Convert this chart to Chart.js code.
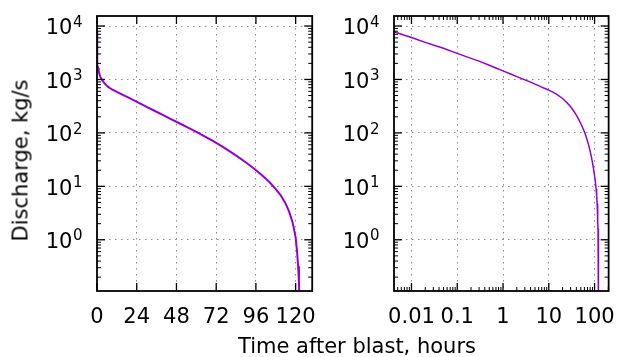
<!DOCTYPE html>
<html>
<head>
<meta charset="utf-8">
<script src="https://cdn.jsdelivr.net/npm/chart.js@4/dist/chart.umd.min.js"></script>
<style>
  html, body { margin: 0; padding: 0; background: #fff; }
  body { width: 629px; height: 357px; position: relative; overflow: hidden; font-family: 'DejaVu Sans', sans-serif; color: #000; }
  #wrapLeft { position: absolute; left: 0; top: 0; width: 330px; height: 357px; }
  #wrapRight { position: absolute; left: 330px; top: 0; width: 299px; height: 357px; }
  .ylab { position: absolute; left: -79.5px; top: 150px; width: 200px; height: 21px; line-height: 21px; font-size: 21px; text-align: center; transform: rotate(-90deg); white-space: nowrap; }
  .xlab { position: absolute; left: 157px; top: 336px; width: 400px; height: 21px; line-height: 21px; font-size: 21px; text-align: center; white-space: nowrap; }
</style>
</head>
<body>
<div id="wrapLeft"><canvas id="leftChart" width="330" height="357"></canvas></div>
<div id="wrapRight"><canvas id="rightChart" width="299" height="357"></canvas></div>
<div class="ylab">Discharge, kg/s</div>
<div class="xlab">Time after blast, hours</div>
<script>
// data (time in hours, discharge in kg/s)
const hours = [0.00417, 0.007, 0.01, 0.02, 0.03, 0.05, 0.1, 0.2, 0.3, 0.5, 0.7, 1, 1.5, 2, 3, 4, 5, 6, 7, 8, 9,
    10, 12, 15, 20, 25, 30, 35, 40, 45, 50, 55, 60, 65, 70, 75, 80, 85, 90, 95,
    100, 104, 108, 111, 114, 116, 118, 119, 120, 120.8, 121.5, 122, 122.4];
const discharge = [7800, 6700, 6100, 4950, 4400, 3850, 3080, 2480, 2200, 1850, 1640, 1450, 1250, 1130, 980, 890, 820, 765, 720, 685, 655,
    630, 587, 527, 441, 368, 308, 257, 215, 179, 150, 125, 105, 86.5, 70.8, 57.3, 45.7, 36, 27.9, 21.3,
    15.8, 12.2, 8.9, 6.8, 4.7, 3.4, 2.2, 1.6, 1.1, 0.63, 0.32, 0.16, 0.05];

const linearTicks = [0, 24, 48, 72, 96, 120];
const logTicks = [0.01, 0.1, 1, 10, 100];
const yDecades = [1, 10, 100, 1000, 10000];

const purple = '#9400d3';
const points = hours.map((t, i) => ({ x: t, y: discharge[i] }));

function logMinors(min, max) {
    const out = [];
    for (let e = Math.floor(Math.log10(min)); e <= Math.ceil(Math.log10(max)); e++) {
        for (let m = 2; m <= 9; m++) {
            const v = m * Math.pow(10, e);
            if (v >= min && v <= max) out.push(v);
        }
    }
    return out;
}

// box, inward ticks on all four sides, 10^n labels
const framePlugin = {
    id: 'frame',
    afterDraw(chart) {
        const { ctx, chartArea: a } = chart;
        const xs = chart.scales.x, ys = chart.scales.y;
        ctx.save();
        ctx.strokeStyle = '#000';

        const line = (x1, y1, x2, y2, w) => {
            ctx.lineWidth = w;
            ctx.beginPath();
            ctx.moveTo(x1, y1);
            ctx.lineTo(x2, y2);
            ctx.stroke();
        };

        // y ticks
        yDecades.forEach(v => {
            const y = ys.getPixelForValue(v);
            line(a.left, y, a.left + 8, y, 1.3);
            line(a.right, y, a.right - 8, y, 1.3);
        });
        logMinors(ys.min, ys.max).forEach(v => {
            const y = ys.getPixelForValue(v);
            line(a.left, y, a.left + 4, y, 1);
            line(a.right, y, a.right - 4, y, 1);
        });

        // x ticks
        const xMajor = xs.type === 'logarithmic' ? logTicks : linearTicks;
        xMajor.forEach(v => {
            const x = xs.getPixelForValue(v);
            line(x, a.bottom, x, a.bottom - 8, 1.3);
            line(x, a.top, x, a.top + 8, 1.3);
        });
        if (xs.type === 'logarithmic') {
            logMinors(xs.min, xs.max).forEach(v => {
                const x = xs.getPixelForValue(v);
                line(x, a.bottom, x, a.bottom - 4, 1);
                line(x, a.top, x, a.top + 4, 1);
            });
        }

        // frame
        ctx.lineWidth = 1.8;
        ctx.strokeRect(a.left, a.top, a.right - a.left, a.bottom - a.top);

        // y labels with superscript exponent
        ctx.fillStyle = '#000';
        ctx.textAlign = 'left';
        ctx.textBaseline = 'alphabetic';
        yDecades.forEach(v => {
            const y = ys.getPixelForValue(v);
            const exp = String(Math.round(Math.log10(v)));
            ctx.font = '21px "DejaVu Sans"';
            const wBase = ctx.measureText('10').width;
            ctx.font = '15px "DejaVu Sans"';
            const wExp = ctx.measureText(exp).width;
            const x0 = a.left - 15 - wBase - wExp;
            ctx.font = '21px "DejaVu Sans"';
            ctx.fillText('10', x0, y + 8.3);
            ctx.font = '15px "DejaVu Sans"';
            ctx.fillText(exp, x0 + wBase + 0.5, y + 0.7);
        });
        ctx.restore();
    }
};

function makeChart(id, xScale, yWidth, padRight, lineWidth) {
    return new Chart(document.getElementById(id), {
        type: 'line',
        data: {
            datasets: [{
                data: points,
                borderColor: purple,
                borderWidth: lineWidth,
                pointRadius: 0,
                tension: 0,
                fill: false
            }]
        },
        options: {
            responsive: false,
            animation: false,
            events: [],
            layout: { padding: { left: 0, right: padRight, top: 16, bottom: 0 } },
            plugins: { legend: { display: false }, tooltip: { enabled: false } },
            scales: {
                x: Object.assign({
                    border: { display: false, dash: [1.5, 4.5] },
                    grid: { color: 'rgba(0,0,0,0.45)', lineWidth: 1, drawTicks: false },
                    ticks: {
                        color: '#000',
                        padding: 14,
                        maxRotation: 0,
                        autoSkip: false,
                        font: { family: 'DejaVu Sans', size: 21 },
                        callback: v => String(v)
                    },
                    afterFit: s => { s.height = 66; }
                }, xScale),
                y: {
                    type: 'logarithmic',
                    min: 0.11,
                    max: 15400,
                    border: { display: false, dash: [1.5, 4.5] },
                    grid: { color: 'rgba(0,0,0,0.45)', lineWidth: 1, drawTicks: false },
                    ticks: { display: false },
                    afterBuildTicks: s => { s.ticks = yDecades.map(v => ({ value: v })); },
                    afterFit: s => { s.width = yWidth; }
                }
            }
        },
        plugins: [framePlugin]
    });
}

makeChart('leftChart', {
    type: 'linear',
    min: 0,
    max: 130,
    afterBuildTicks: s => { s.ticks = linearTicks.map(v => ({ value: v })); }
}, 97, 4, 2);

makeChart('rightChart', {
    type: 'logarithmic',
    min: 0.00415,
    max: 203,
    afterBuildTicks: s => { s.ticks = logTicks.map(v => ({ value: v })); }
}, 64, 6, 1.5);
</script>
</body>
</html>
